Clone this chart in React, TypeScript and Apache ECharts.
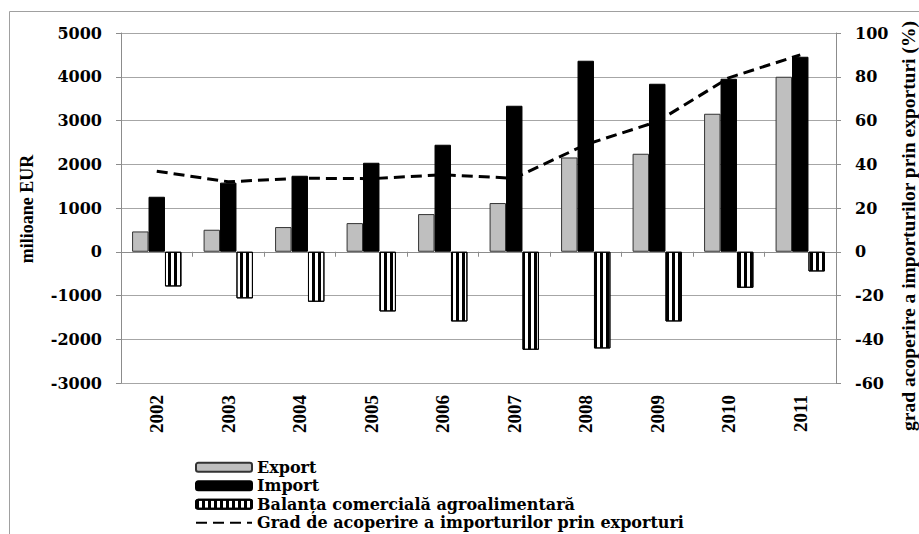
import React, { useEffect, useRef } from "react";
import * as echarts from "echarts";

const years = ["2002", "2003", "2004", "2005", "2006", "2007", "2008", "2009", "2010", "2011"];
const exportValues = [464, 503, 564, 655, 861, 1113, 2155, 2240, 3154, 4000];
const importValues = [1257, 1580, 1737, 2034, 2446, 3337, 4366, 3840, 3954, 4457];
const balanceValues = [-793, -1065, -1143, -1364, -1593, -2240, -2210, -1593, -823, -450];
const coverageValues = [36.8, 32.0, 33.6, 33.4, 35.2, 33.6, 49, 59.5, 79.5, 90];

const seriesNames = [
  "Export",
  "Import",
  "Balanța comercială agroalimentară",
  "Grad de acoperire a importurilor prin exporturi",
];
const leftTitle = "milioane EUR";
const rightTitle = "grad acoperire a importurilor prin exporturi (%)";

const SERIF = '"DejaVu Serif", serif';
const TSERIF = '"Liberation Serif", serif';

export default function App() {
  const ref = useRef<HTMLDivElement>(null);
  useEffect(() => {
    if (!ref.current) return;
    const chart = echarts.init(ref.current, undefined, { renderer: "svg" });
    const gridColor = "#a6a6a6";
    const axisColor = "#8c8c8c";
    const plain = (v: number) => String(v);
    chart.setOption({
      animation: false,
      backgroundColor: "#fff",
      grid: { left: 121, right: 83, top: 33, bottom: 151 },
      legend: {
        orient: "vertical",
        left: 195,
        top: 458,
        padding: 0,
        itemWidth: 56,
        itemHeight: 9,
        itemGap: 0,
        textStyle: { fontFamily: SERIF, fontWeight: "bold", fontSize: 16, color: "#000", lineHeight: 18.5 },
        data: [
          { name: seriesNames[0] },
          { name: seriesNames[1] },
          { name: seriesNames[2] },
          { name: seriesNames[3], itemStyle: { opacity: 0 } },
        ],
      },
      xAxis: [
        {
          type: "category",
          data: years,
          position: "bottom",
          axisLine: { show: false, onZero: false },
          axisTick: { show: false },
          axisLabel: {
            rotate: 90,
            margin: 12,
            fontFamily: TSERIF,
            fontWeight: "bold",
            fontSize: 19,
            color: "#000",
          },
          splitLine: { show: false },
        },
        {
          type: "category",
          data: years,
          position: "bottom",
          axisLine: { show: true, onZero: true, lineStyle: { color: axisColor, width: 1 } },
          axisTick: { show: true, length: 5, alignWithLabel: false, lineStyle: { color: axisColor } },
          axisLabel: { show: false },
          splitLine: { show: false },
        },
      ],
      yAxis: [
        {
          type: "value",
          min: -3000,
          max: 5000,
          interval: 1000,
          axisLine: { show: true, lineStyle: { color: axisColor } },
          axisTick: { show: true, length: 5, lineStyle: { color: axisColor } },
          axisLabel: { margin: 19, formatter: plain, fontFamily: SERIF, fontWeight: "bold", fontSize: 16, color: "#000" },
          splitLine: { show: true, lineStyle: { color: gridColor, width: 1 } },
        },
        {
          type: "value",
          min: -60,
          max: 100,
          interval: 20,
          position: "right",
          axisLine: { show: true, lineStyle: { color: axisColor } },
          axisTick: { show: true, length: 5, lineStyle: { color: axisColor } },
          axisLabel: { margin: 19, formatter: plain, fontFamily: SERIF, fontWeight: "bold", fontSize: 16, color: "#000" },
          splitLine: { show: false },
        },
      ],
      series: [
        {
          name: seriesNames[0],
          type: "bar",
          data: exportValues,
          barGap: "0%",
          barCategoryGap: "31%",
          itemStyle: { color: "#bfbfbf", borderColor: "#333", borderWidth: 1 },
        },
        {
          name: seriesNames[1],
          type: "bar",
          data: importValues,
          barGap: "0%",
          barCategoryGap: "31%",
          itemStyle: { color: "#000", borderColor: "#000", borderWidth: 1 },
        },
        {
          name: seriesNames[2],
          type: "bar",
          data: balanceValues,
          barGap: "0%",
          barCategoryGap: "31%",
          itemStyle: {
            color: "#fff",
            borderColor: "#000",
            borderWidth: 1,
            decal: {
              symbol: "rect",
              symbolSize: 1,
              color: "#000",
              backgroundColor: "#fff",
              dashArrayX: [2.5, 2.5],
              dashArrayY: [4, 0],
              rotation: 0,
            },
          },
        },
        {
          name: seriesNames[3],
          type: "line",
          yAxisIndex: 1,
          data: coverageValues,
          symbol: "none",
          lineStyle: { color: "#000", width: 3, type: [11, 6] },
          itemStyle: { color: "#000" },
          z: 5,
        },
      ],
      graphic: [
        {
          type: "rect",
          shape: { x: 9.5, y: 11.5, width: 1000, height: 1000 },
          style: { fill: "none", stroke: "#a0a0a0", lineWidth: 1 },
          silent: true,
          z: -10,
        },
        {
          type: "text",
          x: 27,
          y: 209,
          rotation: Math.PI / 2,
          style: {
            text: leftTitle,
            font: 'bold 18px "Liberation Serif", serif',
            fill: "#000",
            align: "center",
            verticalAlign: "middle",
          },
        },
        {
          type: "text",
          x: 908,
          y: 226,
          rotation: Math.PI / 2,
          style: {
            text: rightTitle,
            font: 'bold 19.5px "Liberation Serif", serif',
            fill: "#000",
            align: "center",
            verticalAlign: "middle",
          },
        },
      ],
    });
    return () => chart.dispose();
  }, []);
  return (
    <div
      ref={ref}
      style={{ position: "fixed", left: 0, top: 0, width: 919, height: 534, background: "#fff" }}
    />
  );
}
